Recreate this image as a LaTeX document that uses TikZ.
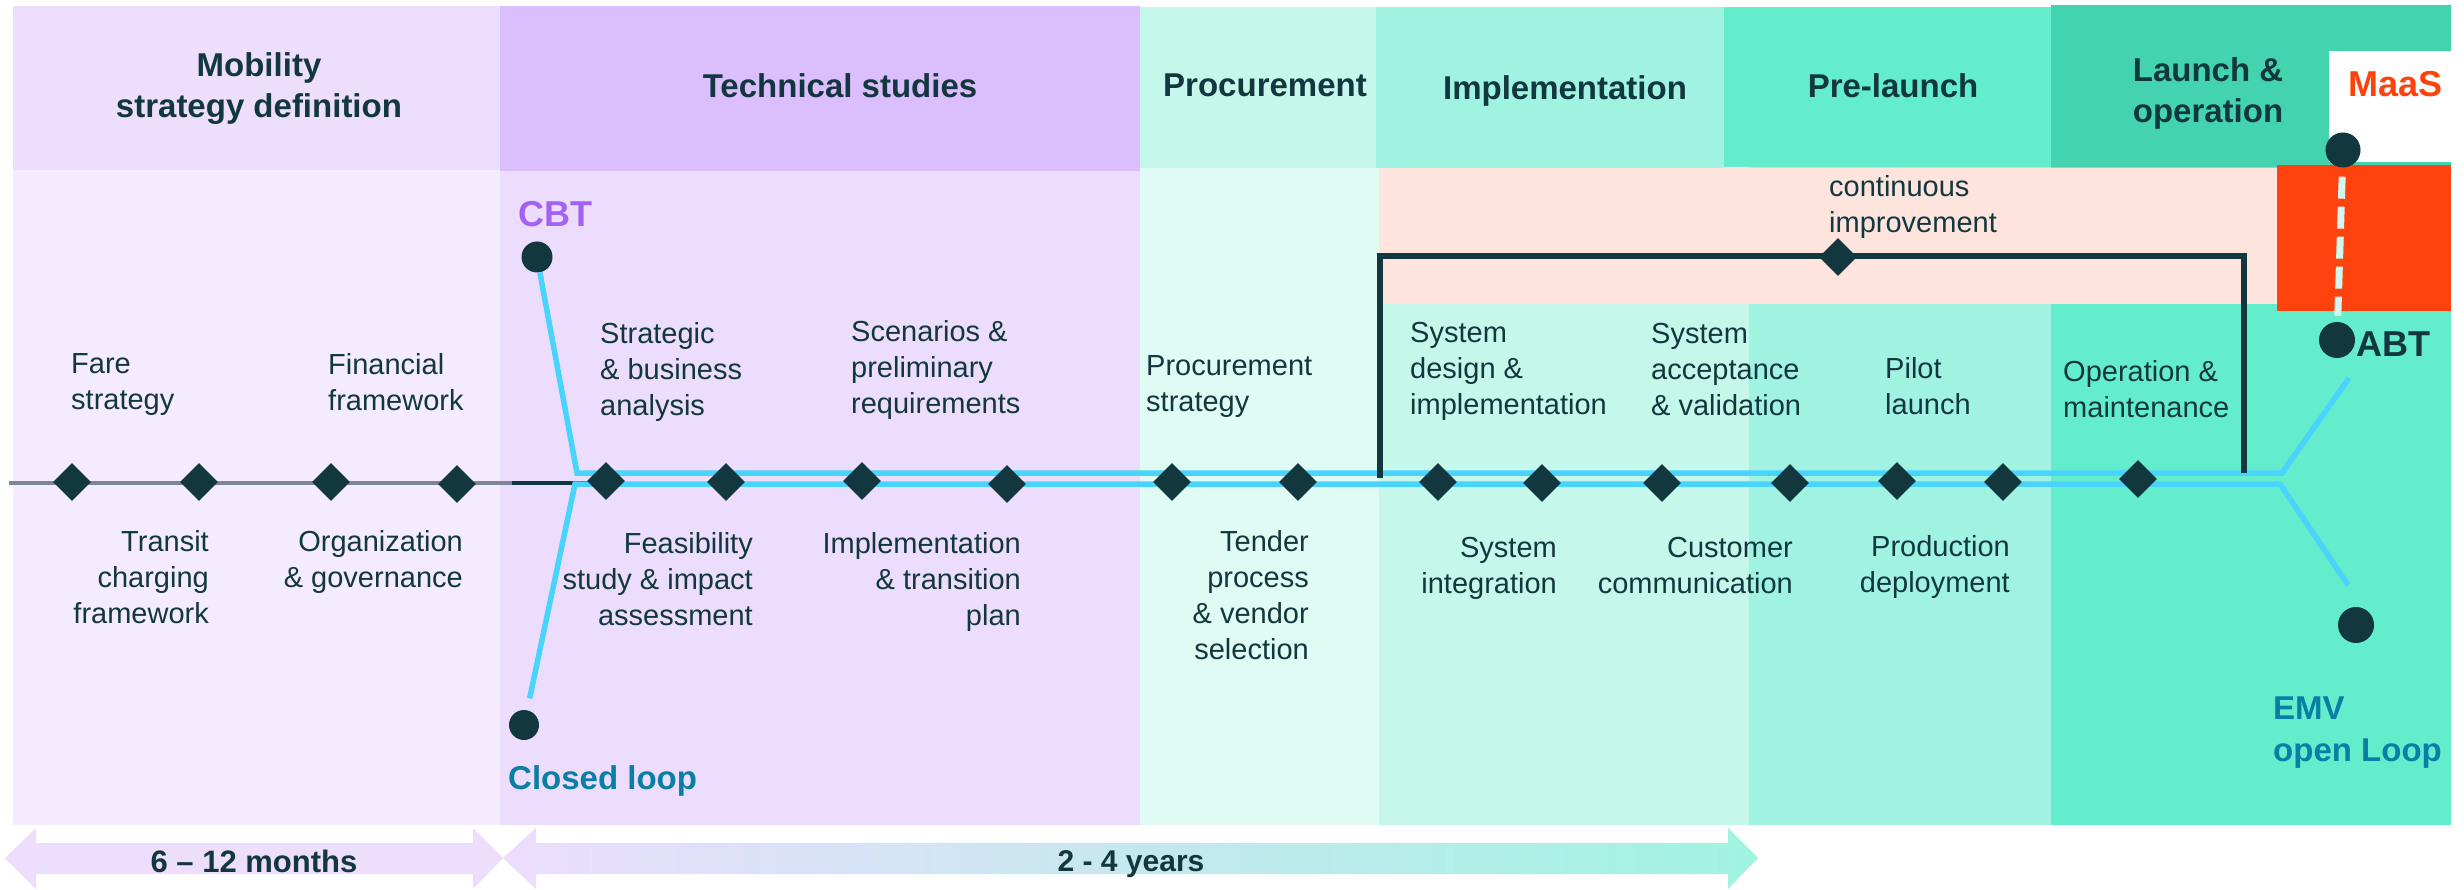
\documentclass[tikz,border=0pt]{standalone}
\usepackage{fontspec}
\setmainfont{Liberation Sans}
\usetikzlibrary{shapes.geometric}
\definecolor{ink}{HTML}{13373F}
\definecolor{hA}{HTML}{EDDEFE}
\definecolor{bA}{HTML}{F4ECFE}
\definecolor{hB}{HTML}{DBBEFD}
\definecolor{bB}{HTML}{ECDDFE}
\definecolor{hC}{HTML}{C5F7EB}
\definecolor{bC}{HTML}{E0FBF4}
\definecolor{hD}{HTML}{A0F3E1}
\definecolor{bD}{HTML}{C5F7EB}
\definecolor{hE}{HTML}{64EDCC}
\definecolor{bE}{HTML}{A0F3E1}
\definecolor{hF}{HTML}{44D3AF}
\definecolor{bF}{HTML}{64EDCC}
\definecolor{pinkband}{HTML}{FFE4DD}
\definecolor{maasred}{HTML}{FF430F}
\definecolor{lineblue}{HTML}{48D4FF}
\definecolor{linegray}{HTML}{7B8797}
\definecolor{cbtpurple}{HTML}{A462F4}
\definecolor{loopteal}{HTML}{0A7EA4}
\definecolor{dashmint}{HTML}{D3F7EE}
\tikzset{
  bodytxt/.style={font=\fontsize{29}{36}\selectfont, text=ink, inner sep=0pt},
  lefttxt/.style={bodytxt, align=left, anchor=north west},
  righttxt/.style={bodytxt, align=right, anchor=north east},
  headtxt/.style={font=\fontsize{33}{41}\selectfont\bfseries, text=ink, inner sep=0pt, align=center},
  ms/.style={diamond, fill=ink, inner sep=0pt, minimum size=38pt},
  dotnode/.style={circle, fill=ink, inner sep=0pt, minimum size=32pt},
  blueline/.style={line width=5.5pt, draw=lineblue},
  grayline/.style={line width=4.5pt, draw=linegray},
  darkline/.style={line width=4.5pt, draw=ink},
  bracketline/.style={line width=6pt, draw=ink},
  dashw/.style={line width=7pt, draw=dashmint, dash pattern=on 22pt off 8pt},
  tagtxt/.style={font=\fontsize{#1}{42}\selectfont\bfseries, inner sep=0pt},
}
\begin{document}
\begin{tikzpicture}[x=1pt,y=-1pt]
\useasboundingbox (0,0) rectangle (2464,890);
\fill[white] (0,0) rectangle (2464,890);
% headers
\fill[hA] (13,6) rectangle (500,170);
\fill[hB] (500,6) rectangle (1140,171);
\fill[hC] (1140,7) rectangle (1376,168);
\fill[hD] (1376,7) rectangle (1724,169);
\fill[hE] (1724,7) rectangle (2051,167);
\fill[hF] (2051,5) rectangle (2451,167);
% bodies
\fill[bA] (13,170) rectangle (500,825);
\fill[bB] (500,171) rectangle (1140,825);
\fill[bC] (1140,168) rectangle (1379,825);
\fill[bD] (1379,169) rectangle (1749,825);
\fill[bE] (1749,167) rectangle (2051,825);
\fill[bF] (2051,167) rectangle (2451,825);
\fill[pinkband] (1379,168) rectangle (2277,304);
\fill[maasred] (2277,165) rectangle (2451,311);
\fill[white] (2329,51) rectangle (2451,162);
% duration arrows
\fill[hA] (5,858) -- (36,828) -- (36,843) -- (473,843) -- (473,828) -- (503,858)
  -- (473,889) -- (473,874) -- (36,874) -- (36,889) -- cycle;
\shade[left color=bB, right color=bE] (503,858) -- (536,828) -- (536,843) -- (1728,843)
  -- (1728,828) -- (1758,858) -- (1728,889) -- (1728,874) -- (536,874) -- (536,889) -- cycle;
\node[headtxt, font=\fontsize{31}{36}\selectfont\bfseries, anchor=base] (d1) at (254,872) {6 -- 12 months};
\node[headtxt, font=\fontsize{30}{36}\selectfont\bfseries, anchor=base] (d2) at (1131,871) {2 - 4 years};
% headings
\node[headtxt, anchor=north] (t1) at (259,52) {Mobility\\strategy definition};
\node[headtxt, anchor=base] (t2) at (840,98) {Technical studies};
\node[headtxt, anchor=base] (t3) at (1265,97) {Procurement};
\node[headtxt, anchor=base] (t4) at (1565,100) {Implementation};
\node[headtxt, anchor=base] (t5) at (1893,98) {Pre-launch};
\node[headtxt, anchor=north] (t6) at (2208,57) {Launch \&\\operation};
\node[tagtxt=36, text=maasred, anchor=base west] (maaslbl) at (2348,97) {MaaS};
% dots
\node[dotnode, minimum size=31pt] (cbt) at (537,257) {};
\node[dotnode, minimum size=30pt] (closed) at (524,725) {};
\node[dotnode, minimum size=35pt] (maas) at (2343,150) {};
\node[dotnode, minimum size=36pt] (abt) at (2337,340) {};
\node[dotnode, minimum size=36pt] (emv) at (2356,625) {};
% lines
\coordinate (g0) at (9,483);
\coordinate (g1) at (512,483);
\coordinate (g2) at (590,483);
\draw[grayline] (g0) -- (g1);
\draw[darkline] (g1) -- (g2);
\coordinate (uc) at (577,473);
\coordinate (ub) at (2282,473);
\coordinate (ue) at (2349,378);
\coordinate (lc) at (575,484);
\coordinate (lb) at (2280,484);
\coordinate (le) at (2348,585);
\draw[blueline] (cbt) -- (uc) -- (ub) -- (ue);
\draw[blueline, shorten >=12pt] (le) -- (lb) -- (lc) -- (closed);
\draw[dashw, shorten <=9pt, shorten >=6pt] (maas) -- (abt);
% bracket
\coordinate (bl) at (1380,478);
\coordinate (btl) at (1380,256);
\coordinate (btr) at (2244,256);
\coordinate (br) at (2244,473);
\draw[bracketline] (bl) -- (btl) -- (btr) -- (br);
\node[ms] (mci) at (1838,257) {};
% milestones
\node[ms] (m1) at (72,482) {};
\node[ms] (m2) at (199,482) {};
\node[ms] (m3) at (331,482) {};
\node[ms] (m4) at (457,484) {};
\node[ms] (m5) at (606,481) {};
\node[ms] (m6) at (726,482) {};
\node[ms] (m7) at (862,481) {};
\node[ms] (m8) at (1007,484) {};
\node[ms] (m9) at (1172,482) {};
\node[ms] (m10) at (1298,482) {};
\node[ms] (m11) at (1438,482) {};
\node[ms] (m12) at (1542,483) {};
\node[ms] (m13) at (1662,483) {};
\node[ms] (m14) at (1790,483) {};
\node[ms] (m15) at (1897,481) {};
\node[ms] (m16) at (2003,482) {};
\node[ms] (m17) at (2138,479) {};
% labels
\node[tagtxt=36, text=cbtpurple, anchor=base west] (cbtlbl) at (518,227) {CBT};
\node[tagtxt=33, text=loopteal, anchor=base west] (closedlbl) at (508,789) {Closed loop};
\node[tagtxt=36, text=ink, anchor=base west] (abtlbl) at (2356,356) {ABT};
\node[tagtxt=33, text=loopteal, anchor=north west, align=left] (emvlbl) at (2273,697) {EMV\\open Loop};
% above texts
\node[lefttxt] (a1) at (71,353) {Fare\\strategy};
\node[lefttxt] (a2) at (328,353) {Financial\\framework};
\node[lefttxt] (a3) at (600,322) {Strategic\\\& business\\analysis};
\node[lefttxt] (a4) at (851,320) {Scenarios \&\\preliminary\\requirements};
\node[lefttxt] (a5) at (1146,355) {Procurement\\strategy};
\node[lefttxt] (a6) at (1410,322) {System\\design \&\\implementation};
\node[lefttxt] (a7) at (1651,323) {System\\acceptance\\\& validation};
\node[lefttxt] (a8) at (1885,357) {Pilot\\launch};
\node[lefttxt] (a9) at (2063,360) {Operation \&\\maintenance};
\node[lefttxt] (a10) at (1829,175) {continuous\\improvement};
% below texts
\node[righttxt] (b1) at (209,530) {Transit\\charging\\framework};
\node[righttxt] (b2) at (463,530) {Organization\\\& governance};
\node[righttxt] (b3) at (753,532) {Feasibility\\study \& impact\\assessment};
\node[righttxt] (b4) at (1021,532) {Implementation\\\& transition\\plan};
\node[righttxt] (b5) at (1309,530) {Tender\\process\\\& vendor\\selection};
\node[righttxt] (b6) at (1557,537) {System\\integration};
\node[righttxt] (b7) at (1793,537) {Customer\\communication};
\node[righttxt] (b8) at (2010,535) {Production\\deployment};
\end{tikzpicture}
\end{document}
